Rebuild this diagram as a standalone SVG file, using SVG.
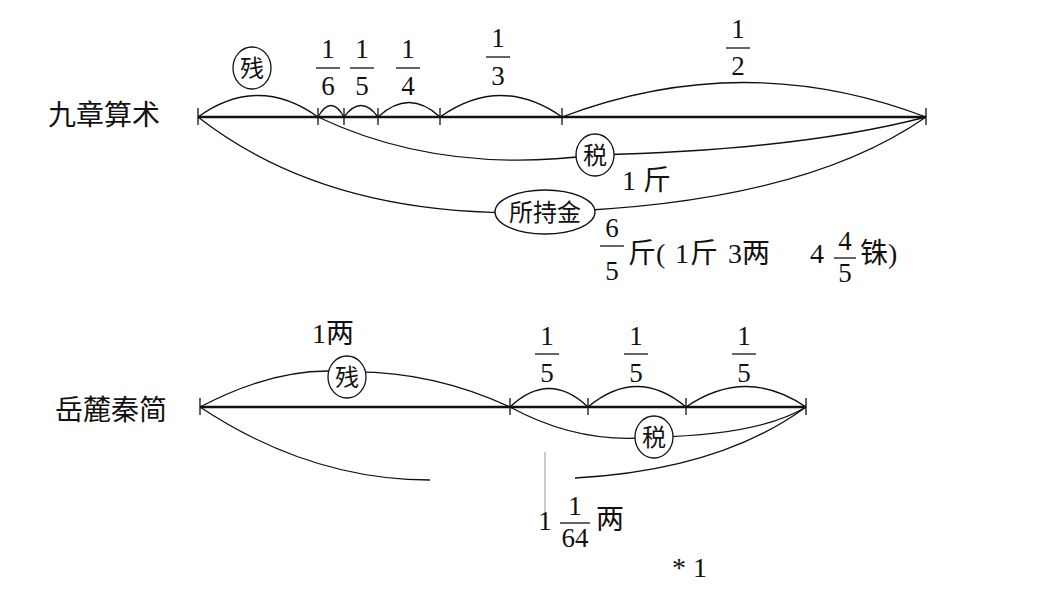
<svg xmlns="http://www.w3.org/2000/svg" width="1063" height="590" viewBox="0 0 1063 590">
<style>
.l{fill:none;stroke:#111;stroke-width:1.3}
.b{fill:none;stroke:#111;stroke-width:2.6}
.t{font-family:"Liberation Serif","Noto Sans CJK SC",serif;font-size:28px;fill:#111}
.f{font-family:"Liberation Serif",serif;font-size:27px;fill:#111;text-anchor:middle}
.c{font-family:"Noto Sans CJK SC",sans-serif;font-size:24px;fill:#111;text-anchor:middle}
.e{fill:#fff;stroke:#111;stroke-width:1.3}
</style>
<rect width="1063" height="590" fill="#fff"/>
<g id="connectors">
<path class="b" d="M198 117H926"/>
<path class="l" d="M198 108V125M318 108V125M344 108V125M378 108V125M440 108V125M562 108V125M926 108V125"/>
<path class="l" d="M198 117Q258 74 318 117M318 117Q331 94 344 117M344 117Q361 94 378 117M378 117Q409 88 440 117M440 117Q501 74 562 117M562 117Q744 48 926 117"/>
<path class="l" d="M318 117Q440 175 595 155Q800 150 926 117"/>
<path class="l" d="M198 117Q330 220 545 212Q800 205 926 117"/>
<path class="b" d="M200 407H806"/>
<path class="l" d="M200 398V415M510 398V415M588 398V415M686 398V415M806 398V415"/>
<path class="l" d="M200 407Q280 365 347 372Q430 370 510 407M510 407Q549 370 588 407M588 407Q637 366 686 407M686 407Q746 366 806 407"/>
<path class="l" d="M510 407Q580 445 654 437Q760 435 806 407"/>
<path class="l" d="M200 407Q310 480 430 480M575 478Q720 470 806 407"/>
<path d="M545 452V515" stroke="#999" stroke-width="1"/>
</g>
<g id="labels">
<text class="t" x="48" y="125">九章算术</text>
<text class="t" x="55" y="420">岳麓秦简</text>
</g>
<g id="top-nodes">
<g id="can1"><ellipse class="e" cx="252" cy="68" rx="19" ry="21"/><text class="c" x="252" y="77">残</text></g>
<g id="f16"><text class="f" x="328" y="58">1</text><path class="l" d="M316 68H340"/><text class="f" x="328" y="95">6</text></g>
<g id="f15"><text class="f" x="362" y="58">1</text><path class="l" d="M350 68H374"/><text class="f" x="362" y="95">5</text></g>
<g id="f14"><text class="f" x="408" y="58">1</text><path class="l" d="M396 68H420"/><text class="f" x="408" y="95">4</text></g>
<g id="f13"><text class="f" x="498" y="47">1</text><path class="l" d="M486 57H510"/><text class="f" x="498" y="85">3</text></g>
<g id="f12"><text class="f" x="738" y="38">1</text><path class="l" d="M726 48H750"/><text class="f" x="738" y="75">2</text></g>
<g id="shui1"><ellipse class="e" cx="595" cy="155" rx="19" ry="21"/><text class="c" x="595" y="164">税</text></g>
<text class="t" x="622" y="190">1 斤</text>
<g id="suochijin"><ellipse class="e" cx="545" cy="212" rx="50" ry="22"/><text class="c" x="545" y="221">所持金</text></g>
<g id="total1"><text class="f" x="612" y="237">6</text><path class="l" d="M600 246H624"/><text class="f" x="612" y="280">5</text>
<text class="t" x="628" y="263">斤(</text><text class="t" x="675" y="263">1</text><text class="t" x="690" y="263">斤</text><text class="t" x="728" y="263">3两</text><text class="t" x="810" y="263">4</text>
<text class="f" x="845" y="250">4</text><path class="l" d="M834 258H856"/><text class="f" x="845" y="282">5</text>
<text class="t" x="860" y="263">铢)</text></g>
</g>
<g id="bottom-nodes">
<text class="t" x="312" y="343">1两</text>
<g id="can2"><ellipse class="e" cx="347" cy="377" rx="19" ry="21"/><text class="c" x="347" y="386">残</text></g>
<g id="b15a"><text class="f" x="547" y="345">1</text><path class="l" d="M535 354H559"/><text class="f" x="547" y="382">5</text></g>
<g id="b15b"><text class="f" x="636" y="345">1</text><path class="l" d="M624 354H648"/><text class="f" x="636" y="382">5</text></g>
<g id="b15c"><text class="f" x="744" y="345">1</text><path class="l" d="M732 354H756"/><text class="f" x="744" y="382">5</text></g>
<g id="shui2"><ellipse class="e" cx="654" cy="437" rx="19" ry="21"/><text class="c" x="654" y="446">税</text></g>
<g id="total2"><text class="f" x="545" y="530">1</text><text class="f" x="575" y="515">1</text><path class="l" d="M560 523H590"/><text class="f" x="575" y="547">64</text><text class="t" x="596" y="529">两</text></g>
<text class="t" x="672" y="577">* 1</text>
</g>
</svg>
